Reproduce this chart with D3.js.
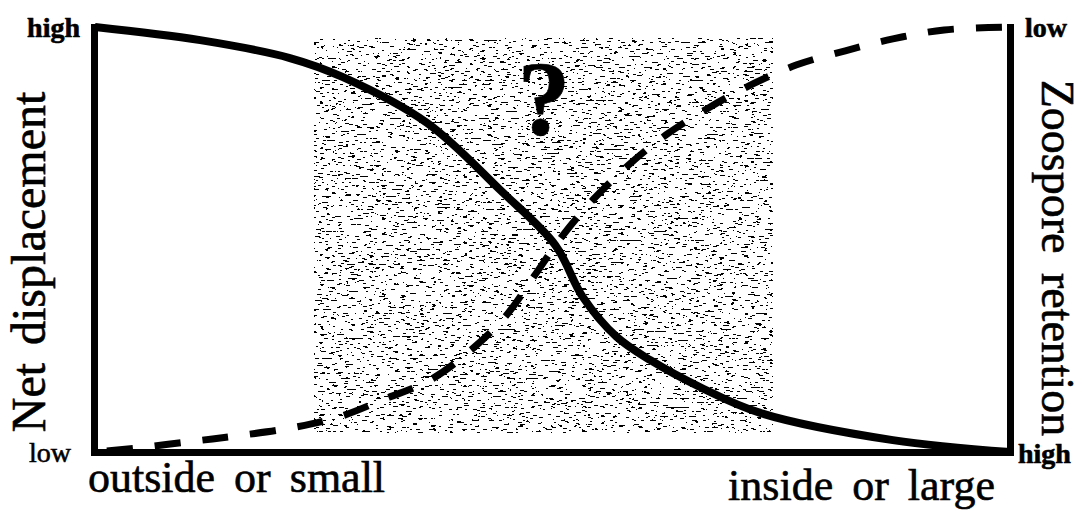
<!DOCTYPE html>
<html>
<head>
<meta charset="utf-8">
<script src="https://cdn.jsdelivr.net/npm/d3@7"></script>
<style>
  body { margin: 0; background: #fff; }
  text { font-family: "Liberation Serif", "Times New Roman", serif; fill: #000; stroke: #000; stroke-width: 0.6; }
</style>
</head>
<body>
<div class="canvas"></div>
<script>
// position along the gradient (0 = outside/small, 100 = inside/large)
const netX = [0, 11.5, 21.3, 27.1, 36.3, 44.3, 50.3, 53.3, 57.0, 60.7, 66.1, 72.7, 87.2, 100];
// net displacement (0 = low, 100 = high)
const netY = [100, 96.9, 92.7, 88.2, 77.4, 61.6, 48.7, 36.5, 27.1, 21.6, 15.3, 9.2, 2.8, 0];

const retX = [0, 4.4, 10.2, 15.5, 21.3, 26.6, 31.7, 36.6, 41.1, 44.9, 48.0, 51.0, 54.4, 58.3, 62.4, 67.0, 71.9, 76.7, 82.0, 87.2, 92.8, 100];
// zoospore retention (0 = low, 100 = high)
const retY = [100, 99.1, 97.6, 96.2, 94.4, 91.8, 87.5, 83.1, 76.0, 68.0, 58.6, 49.4, 40.7, 32.5, 25.4, 19.1, 13.4, 8.9, 5.6, 2.8, 0.7, 0];

// uncertain zone
const zoneX = [24, 74];
const zoneY = [4.5, 97.4];

const leftTicks = ['high', 'low'];
const rightTicks = ['low', 'high'];
const xLabels = ['outside or small', 'inside or large'];
const yTitles = ['Net displacement', 'Zoospore retention'];

const dim = { width: 1082, height: 518 };
const plot = { left: 95, right: 1010, top: 27, bottom: 452 };

const svg = d3.select('.canvas')
    .append('svg')
    .attr('width', dim.width)
    .attr('height', dim.height);

const x = d3.scaleLinear().domain([0, 100]).range([plot.left, plot.right]);
const yNet = d3.scaleLinear().domain([0, 100]).range([plot.bottom, plot.top]);
const yRet = d3.scaleLinear().domain([0, 100]).range([plot.top, plot.bottom]);

// speckled texture for the zone
const defs = svg.append('defs');
const filt = defs.append('filter')
    .attr('id', 'speckle')
    .attr('x', 0).attr('y', 0).attr('width', '100%').attr('height', '100%');
filt.append('feTurbulence')
    .attr('type', 'fractalNoise')
    .attr('baseFrequency', '0.16 0.55')
    .attr('numOctaves', 2)
    .attr('seed', 7)
    .attr('result', 'n');
filt.append('feColorMatrix')
    .attr('type', 'matrix')
    .attr('values', '0 0 0 0 0  0 0 0 0 0  0 0 0 0 0  -3 0 0 0 1.55');
filt.append('feComponentTransfer')
    .append('feFuncA').attr('type', 'discrete').attr('tableValues', '0 1');

svg.append('rect')
    .attr('x', x(zoneX[0]))
    .attr('y', yNet(zoneY[1]))
    .attr('width', x(zoneX[1]) - x(zoneX[0]))
    .attr('height', yNet(zoneY[0]) - yNet(zoneY[1]))
    .attr('fill', '#000')
    .attr('filter', 'url(#speckle)');

svg.append('text')
    .attr('x', 544)
    .attr('y', 135)
    .attr('text-anchor', 'middle')
    .attr('font-size', 106)
    .attr('font-weight', 'bold')
    .text('?');

// curves
const netLine = d3.line()
    .x((d, i) => x(netX[i]))
    .y(d => yNet(d))
    .curve(d3.curveCatmullRom.alpha(0.5));

const retLine = d3.line()
    .x((d, i) => x(retX[i]))
    .y(d => yRet(d))
    .curve(d3.curveCatmullRom.alpha(0.5));

svg.append('path')
    .attr('d', netLine(netY))
    .attr('fill', 'none')
    .attr('stroke', '#000')
    .attr('stroke-width', 8);

svg.append('path')
    .attr('d', retLine(retY))
    .attr('fill', 'none')
    .attr('stroke', '#000')
    .attr('stroke-width', 7)
    .attr('stroke-dasharray', '26 22')
    .attr('stroke-dashoffset', -12);

// axes
const styleAxis = g => {
    g.select('.domain')
        .attr('stroke-width', 7)
        .attr('stroke-linecap', 'square');
    g.selectAll('.tick').remove();
};

svg.append('g')
    .attr('transform', `translate(${plot.left - 1},0)`)
    .call(d3.axisLeft(yNet).tickValues([]).tickSizeOuter(0))
    .call(styleAxis);

svg.append('g')
    .attr('transform', `translate(${plot.right},0)`)
    .call(d3.axisRight(yRet).tickValues([]).tickSizeOuter(0))
    .call(styleAxis);

svg.append('g')
    .attr('transform', `translate(0,${plot.bottom})`)
    .call(d3.axisBottom(x).tickValues([]).tickSizeOuter(0))
    .call(styleAxis);

// end labels
svg.append('text')
    .attr('x', 80).attr('y', 37)
    .attr('text-anchor', 'end')
    .attr('font-size', 28).attr('font-weight', 'bold')
    .text(leftTicks[0]);
svg.append('text')
    .attr('x', 71).attr('y', 462)
    .attr('text-anchor', 'end')
    .attr('font-size', 28)
    .text(leftTicks[1]);
svg.append('text')
    .attr('x', 1025).attr('y', 37)
    .attr('font-size', 28).attr('font-weight', 'bold')
    .text(rightTicks[0]);
svg.append('text')
    .attr('x', 1018).attr('y', 463)
    .attr('font-size', 28).attr('font-weight', 'bold')
    .text(rightTicks[1]);

svg.append('text')
    .attr('x', 88).attr('y', 492)
    .attr('font-size', 44)
    .attr('word-spacing', 8)
    .text(xLabels[0]);
svg.append('text')
    .attr('x', 995).attr('y', 500)
    .attr('text-anchor', 'end')
    .attr('font-size', 44)
    .attr('word-spacing', 8)
    .text(xLabels[1]);

// axis titles
svg.append('text')
    .attr('transform', 'translate(45,262) rotate(-90)')
    .attr('text-anchor', 'middle')
    .attr('font-size', 48)
    .attr('word-spacing', 6)
    .text(yTitles[0]);
svg.append('text')
    .attr('transform', 'translate(1042,258) rotate(90)')
    .attr('text-anchor', 'middle')
    .attr('font-size', 46)
    .attr('word-spacing', 8)
    .text(yTitles[1]);
</script>
</body>
</html>
